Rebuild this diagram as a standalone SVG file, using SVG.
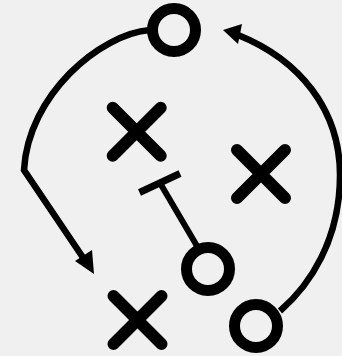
<svg xmlns="http://www.w3.org/2000/svg" width="342" height="356" viewBox="0 0 342 356">
<style>
.ring{fill:none;stroke:#000;stroke-width:11}
.x{fill:none;stroke:#000;stroke-width:12;stroke-linecap:round}
.path{fill:none;stroke:#000;stroke-width:6.5}
.head{fill:#000}
</style>
<rect width="342" height="356" fill="#f0f0f0"/>
<g id="connectors">
<path class="path" d="M150,30 C100,34 28,95 24,170 L86,262"/>
<polygon class="head" points="94,274 75,261 92,250"/>
<path class="path" d="M280,311 C310,285 340,240 340,175 C340,110 300,60 238,35"/>
<polygon class="head" points="223,30 242,24 238,44"/>
<line x1="139.5" y1="192.5" x2="180" y2="173.5" stroke="#000" stroke-width="7"/>
<line x1="160" y1="183" x2="197" y2="246" stroke="#000" stroke-width="6"/>
</g>
<g id="o-top"><circle class="ring" cx="174" cy="30" r="21.5"/></g>
<g id="o-mid"><circle class="ring" cx="208" cy="269" r="21.5"/></g>
<g id="o-bottom"><circle class="ring" cx="256" cy="326" r="21.5"/></g>
<g id="x-top"><path class="x" d="M112.7,107.7 L160.7,155.7 M160.7,107.7 L112.7,155.7"/></g>
<g id="x-right"><path class="x" d="M237,150 L285,198 M285,150 L237,198"/></g>
<g id="x-bottom"><path class="x" d="M113.5,296 L161.5,344 M161.5,296 L113.5,344"/></g>
</svg>
